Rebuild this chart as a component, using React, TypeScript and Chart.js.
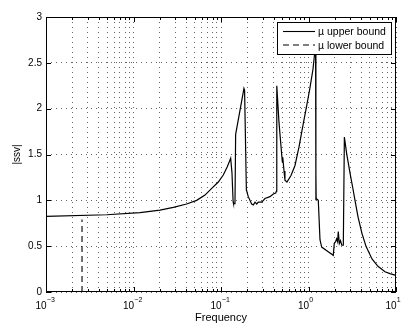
import React, { useEffect, useRef } from 'react';
import { Chart, registerables } from 'chart.js';

Chart.register(...registerables);

// ---- data ----
const upperFreq = [
  0.001, 0.00494, 0.01186, 0.0201, 0.0285, 0.0405, 0.0527, 0.0656, 0.0783, 0.0931,
  0.1062, 0.118, 0.129, 0.1335, 0.1375, 0.139, 0.142, 0.1445, 0.147, 0.183,
  0.186, 0.195, 0.197, 0.205, 0.224, 0.234, 0.245, 0.256, 0.267, 0.292,
  0.318, 0.363, 0.396, 0.422, 0.43, 0.434, 0.46, 0.494, 0.502, 0.508,
  0.525, 0.538, 0.567, 0.631, 0.701, 0.778, 0.865, 0.961, 1.04, 1.125,
  1.205, 1.212, 1.218, 1.224, 1.294, 1.353, 1.415, 1.68, 1.92, 1.97,
  2.04, 2.10, 2.15, 2.19, 2.25, 2.32, 2.40, 2.50, 2.57, 2.73,
  2.98, 3.2, 3.4, 3.68, 4.08, 4.54, 5.32, 6.22, 7.48, 8.53,
  10,
];
const upperValue = [
  0.825, 0.843, 0.865, 0.894, 0.924, 0.96, 1.0, 1.057, 1.13, 1.2,
  1.276, 1.367, 1.458, 1.3, 0.985, 0.965, 0.965, 0.98, 1.72, 2.22,
  2.2, 1.11, 1.1, 1.04, 0.96, 0.95, 0.98, 0.96, 0.98, 0.98,
  1.02, 1.04, 1.07, 1.08, 1.1, 2.25, 1.85, 1.5, 1.42, 1.47,
  1.32, 1.22, 1.2, 1.27, 1.38, 1.58, 1.82, 2.05, 2.23, 2.43,
  2.7, 1.0, 1.3, 1.02, 1.0, 0.57, 0.49, 0.44, 0.4, 0.53,
  0.55, 0.58, 0.55, 0.66, 0.53, 0.56, 0.51, 0.51, 1.69, 1.51,
  1.3, 1.14, 1.0, 0.82, 0.64, 0.5, 0.36, 0.28, 0.22, 0.2,
  0.18,
];
const lowerFreq = [0.00258, 0.00258];
const lowerValue = [0, 0.79];

const seriesLabels = ['\u00b5 upper bound', '\u00b5 lower bound'];
const xTitle = 'Frequency';
const yTitle = '|ssv|';
const yTickValues = [0, 0.5, 1, 1.5, 2, 2.5, 3];
const xDecades = [-3, -2, -1, 0, 1];
const xExponentLabels = ['\u22123', '\u22122', '\u22121', '0', '1'];

const xGridValues: number[] = [];
xDecades.forEach((d, i) => {
  for (let m = 1; m <= 9; m++) {
    if (i === xDecades.length - 1 && m > 1) break;
    xGridValues.push(parseFloat((m * Math.pow(10, d)).toPrecision(6)));
  }
});

const FONT = '"Liberation Sans", Arial, Helvetica, sans-serif';

const decorPlugin = {
  id: 'decor',
  afterDraw(chart: any) {
    const { ctx, chartArea: a, scales } = chart;
    const xs = scales.x;
    const ys = scales.y;
    ctx.save();
    ctx.strokeStyle = '#000';
    ctx.lineWidth = 1;
    ctx.setLineDash([]);
    // inward ticks
    ctx.beginPath();
    xGridValues.forEach((v) => {
      const px = Math.round(xs.getPixelForValue(v)) + 0.5;
      const isMajor = xDecades.some((d) => Math.abs(Math.pow(10, d) - v) < 1e-9);
      const len = isMajor ? 5 : 3;
      ctx.moveTo(px, a.bottom);
      ctx.lineTo(px, a.bottom - len);
      ctx.moveTo(px, a.top);
      ctx.lineTo(px, a.top + len);
    });
    yTickValues.forEach((v) => {
      const py = Math.round(ys.getPixelForValue(v)) + 0.5;
      ctx.moveTo(a.left, py);
      ctx.lineTo(a.left + 5, py);
      ctx.moveTo(a.right, py);
      ctx.lineTo(a.right - 5, py);
    });
    ctx.stroke();
    // frame
    ctx.strokeRect(Math.round(a.left) + 0.5, Math.round(a.top) + 0.5,
      Math.round(a.right - a.left) - 1, Math.round(a.bottom - a.top) - 1);

    // x tick labels 10^n
    ctx.fillStyle = '#000';
    xDecades.forEach((d, i) => {
      const px = xs.getPixelForValue(Math.pow(10, d));
      ctx.font = `10px ${FONT}`;
      ctx.textAlign = 'right';
      ctx.textBaseline = 'alphabetic';
      ctx.fillText('10', px + 0.5, a.bottom + 17);
      ctx.font = `7px ${FONT}`;
      ctx.textAlign = 'left';
      ctx.fillText(xExponentLabels[i], px + 0.8, a.bottom + 10);
    });

    // axis titles
    ctx.font = `11px ${FONT}`;
    ctx.textAlign = 'center';
    ctx.textBaseline = 'alphabetic';
    ctx.fillText(xTitle, (a.left + a.right) / 2, a.bottom + 29);
    ctx.save();
    ctx.translate(17.5, (a.top + a.bottom) / 2);
    ctx.rotate(-Math.PI / 2);
    ctx.font = `10px ${FONT}`;
    ctx.textBaseline = 'middle';
    ctx.fillText(yTitle, 0, 0);
    ctx.restore();

    // legend
    const lx = 277.5, ly = 22.5, lw = 114, lh = 32;
    ctx.fillStyle = '#fff';
    ctx.fillRect(lx, ly, lw, lh);
    ctx.strokeStyle = '#000';
    ctx.lineWidth = 1;
    ctx.strokeRect(lx, ly, lw, lh);
    ctx.lineWidth = 1.1;
    ctx.beginPath();
    ctx.moveTo(283, 31.5);
    ctx.lineTo(315, 31.5);
    ctx.stroke();
    ctx.setLineDash([6, 4]);
    ctx.beginPath();
    ctx.moveTo(283, 45);
    ctx.lineTo(315, 45);
    ctx.stroke();
    ctx.setLineDash([]);
    ctx.fillStyle = '#000';
    ctx.font = `10.5px ${FONT}`;
    ctx.textAlign = 'left';
    ctx.textBaseline = 'alphabetic';
    ctx.fillText(seriesLabels[0], 318, 35);
    ctx.fillText(seriesLabels[1], 318, 48.5);
    ctx.restore();
  },
};

export default function App() {
  const ref = useRef<HTMLCanvasElement | null>(null);
  useEffect(() => {
    if (!ref.current) return;
    const gridColor = 'rgba(0,0,0,0.6)';
    const chart = new Chart(ref.current, {
      type: 'line',
      data: {
        datasets: [
          {
            label: seriesLabels[0],
            data: upperFreq.map((f, i) => ({ x: f, y: upperValue[i] })),
            borderColor: '#000',
            borderWidth: 1.2,
            pointRadius: 0,
            tension: 0,
            fill: false,
          },
          {
            label: seriesLabels[1],
            data: lowerFreq.map((f, i) => ({ x: f, y: lowerValue[i] })),
            borderColor: '#000',
            borderWidth: 1.1,
            borderDash: [6, 4],
            pointRadius: 0,
            tension: 0,
            fill: false,
          },
        ],
      },
      options: {
        responsive: false,
        animation: false,
        layout: { padding: { left: 0, top: 17, right: 6, bottom: 0 } },
        plugins: { legend: { display: false }, tooltip: { enabled: false } },
        scales: {
          x: {
            type: 'logarithmic',
            min: 0.001,
            max: 10,
            afterBuildTicks: (scale: any) => {
              scale.ticks = xGridValues.map((v) => ({ value: v }));
            },
            afterFit: (scale: any) => {
              scale.height = 37;
            },
            ticks: { display: false },
            grid: { color: gridColor, lineWidth: 1, drawTicks: false },
            border: { display: false, dash: [1, 4] },
          },
          y: {
            type: 'linear',
            min: 0,
            max: 3,
            afterBuildTicks: (scale: any) => {
              scale.ticks = yTickValues.map((v) => ({ value: v }));
            },
            afterFit: (scale: any) => {
              scale.width = 46;
            },
            ticks: {
              color: '#000',
              padding: 4,
              font: { family: FONT, size: 10 },
              callback: (v: any) => String(v),
            },
            grid: { color: gridColor, lineWidth: 1, drawTicks: false },
            border: { display: false, dash: [1, 4] },
          },
        },
      },
      plugins: [decorPlugin],
    } as any);
    return () => chart.destroy();
  }, []);
  return (
    <div style={{ position: 'absolute', left: 0, top: 0, width: 402, height: 329, background: '#fff' }}>
      <canvas ref={ref} width={402} height={329} />
    </div>
  );
}
